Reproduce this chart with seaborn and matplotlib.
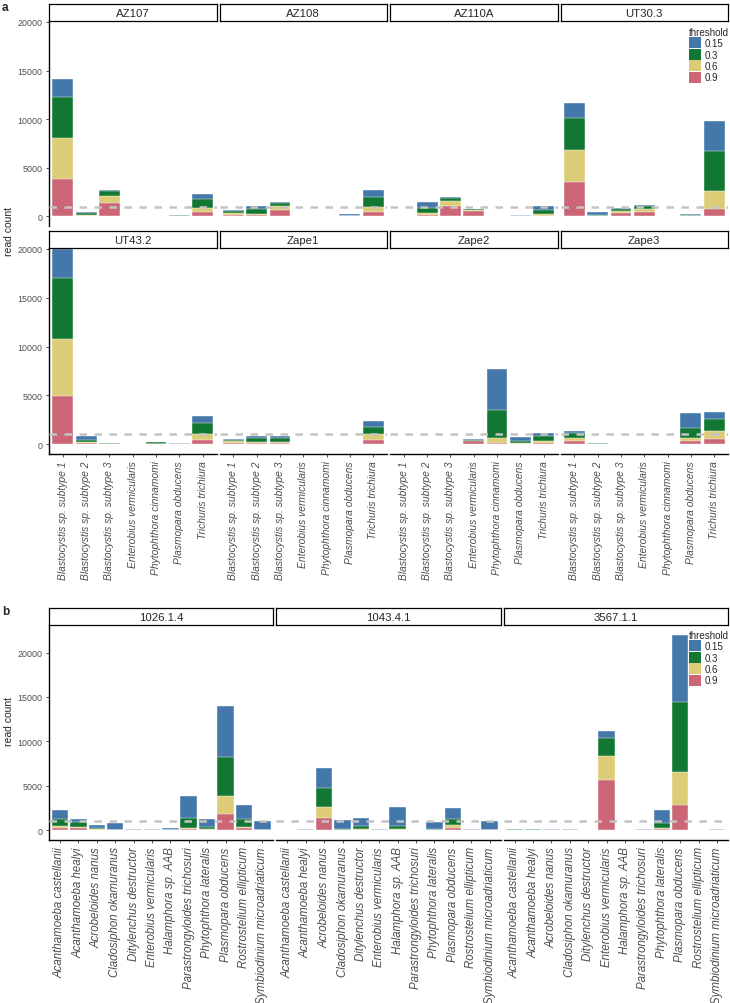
import numpy as np
import pandas as pd
import seaborn as sns
import matplotlib.pyplot as plt
from matplotlib.patches import Patch

sns.set_style('white')
plt.rcParams['font.family'] = ['Liberation Sans', 'DejaVu Sans']

thresholds = ['0.15', '0.3', '0.6', '0.9']
colors = ['#4477AA', '#117733', '#DDCC77', '#CC6677']

# panel a
a_samples = ['AZ107', 'AZ108', 'AZ110A', 'UT30.3', 'UT43.2', 'Zape1', 'Zape2', 'Zape3']
a_taxa = ['Blastocystis sp. subtype 1', 'Blastocystis sp. subtype 2', 'Blastocystis sp. subtype 3',
          'Enterobius vermicularis', 'Phytophthora cinnamomi', 'Plasmopara obducens',
          'Trichuris trichiura']
a_015 = [[14100, 450, 2750, 40, 0, 150, 2250],
         [650, 1050, 1500, 60, 0, 200, 2700],
         [50, 1450, 2000, 800, 0, 100, 1050],
         [11700, 400, 850, 1200, 0, 200, 9800],
         [20000, 850, 170, 50, 270, 170, 2900],
         [550, 850, 800, 50, 0, 50, 2350],
         [30, 50, 50, 500, 7700, 700, 1200],
         [1400, 150, 50, 0, 0, 3150, 3350]]
a_03 = [[12300, 300, 2600, 20, 0, 120, 1800],
        [550, 700, 1400, 20, 0, 50, 2000],
        [20, 850, 1900, 750, 0, 50, 600],
        [10100, 150, 700, 1050, 0, 100, 6700],
        [17000, 450, 140, 0, 200, 50, 2150],
        [450, 600, 600, 0, 0, 0, 1750],
        [0, 40, 30, 450, 3500, 300, 800],
        [1200, 140, 0, 0, 0, 1700, 2600]]
a_06 = [[8100, 120, 2100, 0, 0, 30, 900],
        [300, 250, 1050, 0, 0, 0, 1000],
        [0, 350, 1600, 650, 0, 0, 200],
        [6800, 50, 500, 750, 0, 0, 2600],
        [10800, 250, 0, 0, 0, 0, 1000],
        [300, 250, 250, 0, 0, 0, 1050],
        [0, 0, 20, 350, 600, 150, 300],
        [650, 0, 0, 0, 0, 600, 1400]]
a_09 = [[3800, 50, 1400, 0, 0, 10, 400],
        [150, 100, 650, 0, 0, 0, 450],
        [0, 150, 1050, 500, 0, 0, 50],
        [3500, 0, 300, 450, 0, 0, 700],
        [4900, 100, 0, 0, 0, 0, 450],
        [150, 130, 120, 0, 0, 0, 450],
        [0, 0, 10, 300, 150, 50, 150],
        [300, 0, 0, 0, 0, 300, 500]]

# panel b
b_samples = ['1026.1.4', '1043.4.1', '3567.1.1']
b_taxa = ['Acanthamoeba castellanii', 'Acanthamoeba healyi', 'Acrobeloides nanus',
          'Cladosiphon okamuranus', 'Ditylenchus destructor', 'Enterobius vermicularis',
          'Halamphora sp. AAB', 'Parastrongyloides trichosuri', 'Phytophthora lateralis',
          'Plasmopara obducens', 'Rostrostelium ellipticum', 'Symbiodinium microadriaticum']
b_015 = [[2300, 1250, 550, 850, 150, 150, 200, 3900, 1250, 14000, 2800, 1050],
         [50, 100, 7000, 1200, 1350, 100, 2600, 70, 900, 2500, 100, 1050],
         [100, 100, 100, 100, 30, 11200, 50, 100, 2300, 22000, 50, 150]]
b_03 = [[1250, 900, 300, 70, 0, 0, 0, 1400, 350, 8200, 1250, 0],
        [0, 0, 4700, 150, 500, 50, 500, 0, 150, 1250, 0, 0],
        [100, 100, 80, 0, 0, 10350, 0, 0, 850, 14400, 0, 0]]
b_06 = [[450, 400, 150, 0, 0, 0, 0, 250, 100, 3900, 350, 0],
        [0, 0, 2600, 0, 150, 0, 100, 0, 0, 600, 0, 0],
        [0, 0, 0, 0, 0, 8300, 0, 0, 250, 6600, 0, 0]]
b_09 = [[200, 200, 80, 0, 0, 0, 0, 150, 50, 1800, 200, 0],
        [0, 0, 1350, 0, 80, 0, 0, 0, 0, 250, 0, 0],
        [0, 0, 0, 0, 0, 5600, 0, 0, 100, 2800, 0, 0]]


def long_table(samples, taxa, series):
    rows = []
    for t, per_sample in zip(thresholds, series):
        for s, vals in zip(samples, per_sample):
            for taxon, c in zip(taxa, vals):
                rows.append((s, taxon, t, c))
    return pd.DataFrame(rows, columns=['sample', 'taxon', 'threshold', 'count'])


df_a = long_table(a_samples, a_taxa, [a_015, a_03, a_06, a_09])
df_b = long_table(b_samples, b_taxa, [b_015, b_03, b_06, b_09])

W, H = 730, 1004
fig = plt.figure(figsize=(W / 100, H / 100), dpi=100)


def box(x0, y0, x1, y1):
    return [x0 / W, 1 - y1 / H, (x1 - x0) / W, (y1 - y0) / H]


def facet(x0, y0, x1, y1, d, taxa, ylim, first, bottom, label_size):
    ax = fig.add_axes(box(x0, y0, x1, y1))
    sns.barplot(data=d, x='taxon', y='count', hue='threshold', hue_order=thresholds,
                order=taxa, palette=colors, saturation=1, dodge=False, width=0.9,
                errorbar=None, legend=False, edgecolor='white', linewidth=0.3, ax=ax)
    ax.axhline(1000, color='#c4c4c4', lw=1.8, ls=(0, (3, 3)), zorder=5)
    ax.set_xlim(-0.6, len(taxa) - 0.4)
    ax.set_ylim(*ylim)
    ax.set_yticks([0, 5000, 10000, 15000, 20000])
    ax.set_yticklabels(['0', '5000', '10000', '15000', '20000'])
    ax.set_xlabel('')
    ax.set_ylabel('')
    ax.set_xticks(range(len(taxa)))
    ax.set_xticklabels(taxa, rotation=90, fontstyle='italic', fontsize=label_size, color='#4d4d4d')
    for side in ['top', 'right']:
        ax.spines[side].set_visible(False)
    for side in ['bottom', 'left']:
        ax.spines[side].set_color('black')
        ax.spines[side].set_linewidth(1.0)
    ax.spines['left'].set_visible(first)
    ax.spines['bottom'].set_visible(bottom)
    ax.tick_params(axis='both', length=2.5, width=0.6, color='#333333', pad=2,
                   labelcolor='#4d4d4d', labelsize=6.4, left=first, labelleft=first,
                   bottom=bottom, labelbottom=bottom)
    ax.tick_params(axis='x', labelsize=label_size)
    return ax


def strip(x0, y0, x1, y1, text):
    s = fig.add_axes(box(x0, y0, x1, y1))
    s.set_xticks([])
    s.set_yticks([])
    s.set_facecolor('white')
    for sp in s.spines.values():
        sp.set_visible(True)
        sp.set_color('black')
        sp.set_linewidth(0.9)
    s.text(0.5, 0.45, text, ha='center', va='center', fontsize=8.2, transform=s.transAxes)


# panel a: 2 rows x 4 columns
fw_a = (728 - 49 - 3 * 3) / 4
rows_a = [(5, 22, 227), (232, 249, 455)]
for i, sample in enumerate(a_samples):
    r, c = divmod(i, 4)
    x0 = 49 + c * (fw_a + 3)
    sy, ay, by = rows_a[r]
    facet(x0, ay, x0 + fw_a, by, df_a[df_a['sample'] == sample], a_taxa,
          (-1000, 20100), c == 0, r == 1, 7.4)
for i, sample in enumerate(a_samples):
    r, c = divmod(i, 4)
    x0 = 49 + c * (fw_a + 3)
    sy, ay, by = rows_a[r]
    strip(x0, sy, x0 + fw_a, ay, sample)

# panel b: 1 row x 3 columns
fw_b = (728 - 49 - 2 * 3) / 3
for c, sample in enumerate(b_samples):
    x0 = 49 + c * (fw_b + 3)
    facet(x0, 626, x0 + fw_b, 841, df_b[df_b['sample'] == sample], b_taxa,
          (-1100, 23100), c == 0, True, 8.3)
for c, sample in enumerate(b_samples):
    x0 = 49 + c * (fw_b + 3)
    strip(x0, 609, x0 + fw_b, 626, sample)

handles = [Patch(facecolor=col, edgecolor='none') for col in colors]
for top in [28, 631]:
    fig.legend(handles, thresholds, title='threshold', loc='upper left',
               bbox_to_anchor=(689 / W, 1 - top / H), frameon=False, fontsize=7,
               title_fontsize=7, handlelength=1.25, handleheight=1.35, labelspacing=0.05,
               handletextpad=0.35, borderaxespad=0, borderpad=0, alignment='left')

fig.text(9 / W, 1 - 232 / H, 'read count', rotation=90, ha='center', va='center', fontsize=7.5)
fig.text(9 / W, 1 - 722 / H, 'read count', rotation=90, ha='center', va='center', fontsize=7.5)
fig.text(2 / W, 1 - 8 / H, 'a', fontweight='bold', fontsize=8.5, va='center')
fig.text(2 / W, 1 - 612 / H, 'b', fontweight='bold', fontsize=8.5, va='center')

fig.savefig('out.png', dpi=100)
